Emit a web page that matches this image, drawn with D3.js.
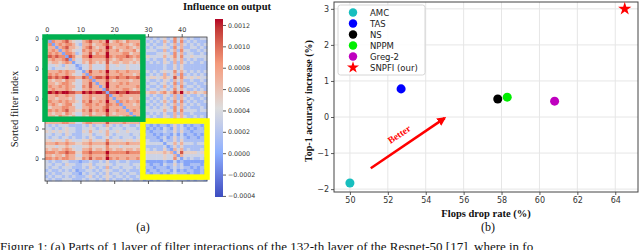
<!DOCTYPE html>
<html><head><meta charset="utf-8">
<script src="https://cdn.jsdelivr.net/npm/d3@7"></script>
<style>body{margin:0;background:#fff;} svg{display:block;}</style>
</head><body>
<svg id="c" width="640" height="250"></svg>
<script>
// ---------- Panel (a): heatmap levels 0..9 (0 = -0.00041, 9 = 0.001256), read row by row ----------
const heatRows = [
"2 7 6 6 7 6 8 6 6 5 4 7 6 8 6 7 6 6 9 6 5 7 6 6 7 6 5 6 7 3 4 3 4 3 4 5 3 4 7 4 6 4 3 4 3 3 4 4",
"7 2 7 6 6 7 8 6 5 4 4 6 7 8 6 6 7 6 9 5 6 7 6 5 7 6 6 6 6 4 3 4 3 4 3 6 4 3 7 4 7 3 4 3 4 3 3 3",
"6 7 2 6 7 6 7 7 6 4 3 6 6 7 5 6 6 7 8 6 6 6 7 6 6 5 6 7 6 3 4 3 4 3 3 5 3 4 6 3 6 4 3 4 3 4 3 4",
"6 6 6 2 6 7 8 6 6 5 4 6 7 8 6 5 6 6 9 7 5 6 6 6 7 6 5 6 6 4 3 4 3 4 4 5 4 3 7 4 6 3 3 4 4 3 4 3",
"7 6 7 6 2 6 7 6 5 4 4 7 6 7 6 6 7 6 8 6 6 7 5 6 6 6 7 5 6 3 4 4 4 3 3 6 3 4 6 3 7 4 4 3 3 4 3 4",
"6 7 6 7 6 2 7 7 6 3 4 6 6 8 5 7 6 6 9 6 6 6 6 7 7 5 6 6 7 4 3 3 3 4 4 5 4 3 7 4 6 3 4 4 3 3 4 3",
"8 8 7 8 7 7 2 8 7 5 5 7 7 9 7 7 7 7 9 7 6 7 7 7 8 7 6 7 7 4 5 4 4 4 4 6 4 5 7 4 7 4 4 5 4 4 4 4",
"6 6 7 6 6 7 8 2 6 4 4 6 6 7 6 6 6 6 8 6 5 6 7 6 6 6 5 6 6 3 4 3 4 3 3 5 3 4 6 4 6 3 4 3 4 3 3 4",
"6 5 6 6 5 6 7 6 2 4 4 6 5 7 6 5 6 5 8 5 6 6 5 6 6 5 6 5 6 3 3 4 3 4 3 5 4 3 6 3 6 4 3 4 3 3 4 3",
"5 4 4 5 4 3 5 4 4 2 3 4 4 6 4 4 4 4 7 4 4 5 4 4 5 4 4 4 5 3 3 3 3 3 3 4 3 3 5 3 5 3 3 3 3 3 3 3",
"4 4 3 4 4 4 5 4 4 3 2 4 4 6 4 4 4 4 7 4 4 4 4 4 5 4 4 4 4 3 3 3 3 3 3 4 3 3 5 3 5 3 3 3 3 3 3 3",
"7 6 6 6 7 6 7 6 6 4 4 2 6 8 6 6 7 6 9 6 6 7 6 6 7 6 6 6 6 4 4 3 4 3 4 5 4 4 7 4 6 4 3 4 3 4 3 4",
"6 7 6 7 6 6 7 6 5 4 4 6 2 7 6 6 6 6 8 6 6 6 7 6 6 6 5 6 7 3 3 4 3 4 3 6 3 4 6 3 7 3 4 3 4 3 4 3",
"8 8 7 8 7 8 9 7 7 6 6 8 7 2 7 8 8 7 9 7 7 8 7 7 8 7 7 8 7 5 4 5 5 4 5 6 5 4 8 5 7 5 4 5 4 5 4 4",
"6 6 5 6 6 5 7 6 6 4 4 6 6 7 2 6 6 6 8 6 5 6 6 6 6 5 6 6 6 3 4 3 3 4 3 5 4 3 6 4 6 3 3 4 3 3 4 3",
"7 6 6 5 6 7 7 6 5 4 4 6 6 8 6 2 6 6 9 6 6 6 7 6 7 6 6 6 6 4 3 4 4 3 4 5 3 4 7 3 6 4 3 3 4 3 3 4",
"6 7 6 6 7 6 7 6 6 4 4 7 6 8 6 6 2 6 9 6 6 7 6 6 6 6 6 7 6 3 4 3 3 4 3 6 4 3 6 4 7 3 4 4 3 4 3 3",
"6 6 7 6 6 6 7 6 5 4 4 6 6 7 6 6 6 2 8 6 6 6 6 7 7 6 5 6 6 4 3 4 4 3 4 5 3 4 7 4 6 4 3 3 4 3 4 3",
"9 9 8 9 8 9 9 8 8 7 7 9 8 9 8 9 9 8 2 8 8 9 8 8 9 8 8 8 8 6 5 6 6 5 6 7 5 6 8 6 9 5 6 5 6 5 5 6",
"6 6 6 7 6 6 7 6 6 4 4 6 6 7 6 6 6 6 8 2 6 6 7 6 6 6 6 6 6 3 4 3 4 3 3 5 4 3 6 3 6 3 4 3 3 4 3 4",
"6 6 6 5 6 6 6 5 6 4 4 6 6 7 5 6 6 6 8 6 2 6 6 6 6 5 6 6 5 3 3 4 3 4 3 5 3 4 6 3 6 4 3 4 3 3 4 3",
"7 7 6 6 7 6 7 6 6 5 4 7 6 8 6 6 7 6 9 6 6 2 7 6 7 6 6 7 6 4 4 3 4 3 4 6 4 3 7 4 7 3 4 3 4 3 3 4",
"6 6 7 6 5 6 7 7 5 4 4 6 7 7 6 7 6 6 8 7 6 7 2 6 6 6 5 6 6 3 3 4 3 4 3 5 3 4 6 3 6 4 3 4 3 4 3 3",
"6 5 6 6 6 7 7 6 6 4 4 6 6 7 6 6 6 7 8 6 6 6 6 2 6 6 6 6 7 4 4 3 4 3 4 5 4 3 7 4 6 3 4 3 3 3 4 3",
"7 7 6 7 6 7 8 6 6 5 5 7 6 8 6 7 6 7 9 6 6 7 6 6 2 6 7 6 6 4 4 4 4 4 4 6 4 4 7 4 7 4 4 4 4 3 4 4",
"6 6 5 6 6 5 7 6 5 4 4 6 6 7 5 6 6 6 8 6 5 6 6 6 6 2 6 6 6 3 3 4 3 4 3 5 3 3 6 3 6 3 3 4 3 3 3 3",
"6 6 6 5 7 6 6 5 6 4 4 6 5 7 6 6 6 5 8 6 6 6 5 6 7 6 2 6 6 3 4 3 4 3 3 5 4 3 6 4 6 4 3 3 4 3 4 3",
"6 6 7 6 5 6 7 6 5 4 4 6 6 8 6 6 7 6 8 6 6 7 6 6 6 6 6 2 6 4 3 4 3 4 4 5 3 4 7 3 6 3 4 3 3 4 3 4",
"6 6 6 6 6 7 7 6 6 4 4 6 7 7 6 6 6 6 8 6 6 6 6 7 6 6 6 6 2 3 4 3 4 3 3 6 4 3 6 4 6 4 3 4 3 3 4 3",
"4 3 4 3 4 4 4 3 3 3 3 4 3 5 3 4 4 3 6 4 3 4 3 4 4 3 3 4 3 2 3 2 3 2 3 3 2 3 5 3 4 2 3 2 3 3 2 3",
"4 4 3 4 3 4 5 4 4 3 3 4 4 5 4 3 4 4 5 3 4 4 4 3 4 4 4 3 4 3 2 3 2 3 2 4 3 2 5 3 4 3 2 3 2 3 3 2",
"5 4 5 4 5 4 5 4 4 3 3 5 4 6 4 4 5 4 6 4 4 5 4 4 5 4 4 4 4 2 3 2 3 3 3 4 3 3 5 3 5 3 3 2 3 3 3 3",
"4 4 3 4 4 3 5 4 3 3 3 4 4 5 3 4 4 4 6 4 3 4 4 4 4 3 4 4 3 3 3 3 2 3 2 3 3 2 4 2 4 2 3 3 2 3 2 3",
"4 3 4 4 3 4 4 3 4 3 3 4 3 5 4 3 3 4 5 3 4 4 3 4 4 4 3 4 4 2 3 3 3 2 3 4 2 3 5 3 4 3 2 3 3 2 3 3",
"5 5 4 5 5 4 6 5 4 4 4 5 5 6 4 5 5 4 7 5 4 5 5 4 5 5 4 5 5 3 4 3 3 3 2 4 3 3 5 3 5 3 3 3 3 3 3 3",
"6 6 6 7 6 6 7 6 6 5 5 6 6 7 6 6 6 6 8 6 6 6 6 6 7 6 6 6 6 4 4 4 4 4 4 2 4 4 6 4 6 4 4 4 3 4 4 4",
"5 5 5 4 5 5 6 5 4 4 4 5 5 6 5 5 5 5 7 5 5 5 4 5 5 5 5 5 5 3 3 3 3 3 3 4 2 3 5 3 5 3 3 3 3 3 3 3",
"6 5 6 6 5 6 7 6 5 4 4 6 6 7 5 6 6 5 7 6 5 6 6 5 6 6 5 6 6 3 4 3 4 3 3 5 3 2 6 4 6 3 4 3 3 3 4 3",
"7 7 7 6 7 7 8 7 7 5 5 7 7 8 7 7 7 7 9 7 7 7 7 7 8 7 7 7 7 5 5 5 5 5 5 6 5 6 2 5 8 5 5 5 5 4 5 5",
"6 6 5 6 6 5 7 6 6 4 4 6 6 7 6 6 6 6 8 6 6 6 6 6 6 6 6 6 6 4 4 4 4 4 4 5 4 4 6 2 6 4 4 4 4 4 4 4",
"7 7 6 7 6 7 7 6 6 5 5 7 6 8 6 7 7 6 9 7 6 7 6 6 7 6 6 7 6 4 4 4 4 4 4 5 4 4 7 4 2 4 3 4 3 3 4 3",
"4 3 4 3 3 4 4 3 3 3 2 3 3 4 3 3 4 3 5 3 3 4 3 3 4 3 3 3 3 2 2 2 2 2 2 3 2 2 4 2 3 2 2 2 2 2 2 2",
"4 4 3 4 4 3 5 4 4 3 3 4 4 5 3 4 4 4 5 4 3 4 4 4 4 3 4 4 4 3 3 2 3 3 2 4 3 3 5 3 4 2 2 3 3 3 2 3",
"4 3 4 4 3 4 4 4 3 3 3 4 3 5 4 3 4 3 6 3 4 4 3 4 4 4 3 4 3 2 3 3 2 3 3 3 2 3 4 3 4 3 3 2 3 2 3 3",
"3 4 3 3 4 3 4 3 4 2 3 3 4 4 3 4 3 4 5 4 3 3 4 3 4 3 3 3 4 3 2 3 3 2 3 3 3 2 4 2 3 2 3 3 2 2 3 2",
"4 3 4 3 3 4 4 4 3 3 2 4 3 4 4 3 4 3 5 3 4 4 3 4 3 4 4 3 3 2 3 2 3 3 2 3 2 3 4 3 3 3 2 3 2 2 3 2",
"3 4 3 4 4 3 4 3 4 3 3 3 4 5 3 4 3 4 5 4 3 4 4 3 4 3 3 4 3 3 2 3 2 3 3 4 3 2 4 2 4 2 3 2 3 3 2 3",
"4 3 4 3 3 4 4 4 3 3 3 4 3 4 4 3 4 3 5 3 4 3 3 4 3 4 3 3 4 2 3 2 3 2 3 3 2 3 4 3 3 3 2 3 2 3 3 2"
];
const levelMin = -0.00041, levelStep = 0.000185;   // value of level 0 and size of one level
const heatTicks = [0, 10, 20, 30, 40];
const cbTicks = [0.0012, 0.0010, 0.0008, 0.0006, 0.0004, 0.0002, 0.0000, -0.0002, -0.0004];
const cbTickLabels = ["0.0012","0.0010","0.0008","0.0006","0.0004","0.0002","0.0000","\u22120.0002","\u22120.0004"];
const cbDomain = [-0.00041, 0.001256];
const coolwarm = ["#3b4cc0", "#8db0fe", "#dddddd", "#f49a7b", "#b40426"];
const greenBoxCells = [0, 29, 0, 27.4];   // x0,x1,y0,y1 in cell units
const yellowBoxCells = [29, 48, 28, 46.7];

// ---------- Panel (b): scatter ----------
const methods = ["AMC", "TAS", "NS", "NPPM", "Greg-2", "SNPFI (our)"];
const flopsDrop = [50.0, 52.7, 57.8, 58.3, 60.8, 64.5];
const accIncrease = [-1.83, 0.78, 0.50, 0.55, 0.44, 3.0];
const methodColors = ["#17bebe", "#0000ff", "#000000", "#00ee00", "#bf00bf", "#ff0000"];
const methodShapes = ["circle", "circle", "circle", "circle", "circle", "star"];
const xTicks = [50, 52, 54, 56, 58, 60, 62, 64];
const yTicks = [3, 2, 1, 0, -1, -2];
const yTickLabels = ["3", "2", "1", "0", "\u22121", "\u22122"];
const arrowFrom = [51.1, -1.42], arrowTo = [55.0, -0.03];

const captionText = "Figure 1: (a) Parts of 1 layer of filter interactions of the 132-th layer of the Resnet-50 [17], where in fo";

const svg = d3.select("#c");
const serif = "'Liberation Serif','Times New Roman',serif";
const sans = "'DejaVu Sans',sans-serif";

// ===== Heatmap =====
const matrix = heatRows.map(r => r.replace(/ /g, "").split("").map(ch => levelMin + (+ch) * levelStep));
const n = matrix.length;
const idx = d3.range(n);
const xb = d3.scaleBand().domain(idx).range([45, 207]);
const yb = d3.scaleBand().domain(idx).range([37, 181]);
const color = d3.scaleLinear()
  .domain(d3.range(5).map(i => cbDomain[0] + i * (cbDomain[1] - cbDomain[0]) / 4))
  .range(coolwarm).interpolate(d3.interpolateLab).clamp(true);

const cells = [];
matrix.forEach((row, i) => row.forEach((v, j) => cells.push({i, j, v})));
svg.append("g").selectAll("rect").data(cells).join("rect")
  .attr("x", d => xb(d.j)).attr("y", d => yb(d.i))
  .attr("width", xb.bandwidth() + 0.4).attr("height", yb.bandwidth() + 0.4)
  .attr("fill", d => color(d.v));

svg.append("rect").attr("x", 45).attr("y", 37).attr("width", 162).attr("height", 144)
  .attr("fill", "none").attr("stroke", "#444").attr("stroke-width", 0.8);

function styleAxis(g, size) {
  g.selectAll("path.domain").remove();
  g.selectAll("line").attr("stroke", "#333").attr("stroke-width", 0.8);
  g.selectAll("text").attr("font-family", sans).attr("font-size", size).attr("fill", "#333");
}
const cx = v => xb(v) + xb.bandwidth() / 2;
svg.append("g").attr("transform", "translate(0,37)")
  .call(d3.axisTop(d3.scalePoint().domain(idx).range([cx(0), cx(n - 1)])).tickValues(heatTicks).tickSize(3).tickPadding(2))
  .call(g => styleAxis(g, 6.5));
svg.append("g").attr("transform", "translate(0,181)")
  .call(d3.axisBottom(d3.scalePoint().domain(idx).range([cx(0), cx(n - 1)])).tickValues(heatTicks).tickSize(3).tickFormat(""))
  .call(g => styleAxis(g, 6.5));
// the reference figure is cropped so only the last digit of the left tick labels shows
svg.append("clipPath").attr("id", "ylabclip").append("rect").attr("x", 35.6).attr("y", 0).attr("width", 30).attr("height", 250);
const cy = v => yb(v) + yb.bandwidth() / 2;
svg.append("g").attr("clip-path", "url(#ylabclip)")
  .append("g").attr("transform", "translate(45,0)")
  .call(d3.axisLeft(d3.scalePoint().domain(idx).range([cy(0), cy(n - 1)])).tickValues(heatTicks).tickSize(3).tickPadding(3))
  .call(g => styleAxis(g, 6.5));

// boxes
function box(cellsArr, col, w) {
  const x0 = 45 + cellsArr[0] * xb.step(), x1 = 45 + cellsArr[1] * xb.step();
  const y0 = 37 + cellsArr[2] * yb.step(), y1 = 37 + cellsArr[3] * yb.step();
  svg.append("rect").attr("x", x0).attr("y", y0).attr("width", x1 - x0).attr("height", y1 - y0)
    .attr("fill", "none").attr("stroke", col).attr("stroke-width", w);
}
box(yellowBoxCells, "#ffff00", 5.5);
box(greenBoxCells, "#00b050", 5.5);

svg.append("text").attr("transform", "translate(18,109) rotate(-90)").attr("text-anchor", "middle")
  .attr("font-family", serif).attr("font-size", 10.5).attr("fill", "#111").text("Sorted filter index");

// colorbar
const cbX = 215, cbW = 8;
const cbScale = d3.scaleLinear().domain(cbDomain).range([197, 19]);
const grad = svg.append("defs").append("linearGradient").attr("id", "cbg")
  .attr("x1", 0).attr("y1", 1).attr("x2", 0).attr("y2", 0);
d3.range(21).forEach(k => {
  const t = k / 20;
  grad.append("stop").attr("offset", t).attr("stop-color", color(cbDomain[0] + t * (cbDomain[1] - cbDomain[0])));
});
svg.append("rect").attr("x", cbX).attr("y", 19).attr("width", cbW).attr("height", 178).attr("fill", "url(#cbg)");
svg.append("g").attr("transform", `translate(${cbX + cbW},0)`)
  .call(d3.axisRight(cbScale).tickValues(cbTicks).tickSize(3).tickPadding(2).tickFormat((d, i) => cbTickLabels[i]))
  .call(g => styleAxis(g, 6.3));
svg.append("text").attr("x", 227).attr("y", 10).attr("text-anchor", "middle")
  .attr("font-family", serif).attr("font-weight", "bold").attr("font-size", 10.5).attr("fill", "#111")
  .text("Influence on output");

svg.append("text").attr("x", 143).attr("y", 231).attr("text-anchor", "middle")
  .attr("font-family", serif).attr("font-size", 12).attr("fill", "#111").text("(a)");

// ===== Scatter =====
const L = 334, R = 638, T = 2, B = 192;
const xs = d3.scaleLinear().domain([49.16, 65.2]).range([L, R]);
const ys = d3.scaleLinear().domain([-2.08, 3.19]).range([B, T]);

svg.append("g").selectAll("line").data(xTicks).join("line")
  .attr("x1", d => xs(d)).attr("x2", d => xs(d)).attr("y1", T).attr("y2", B)
  .attr("stroke", "#e6e6e6").attr("stroke-width", 1);
svg.append("g").selectAll("line").data(yTicks).join("line")
  .attr("y1", d => ys(d)).attr("y2", d => ys(d)).attr("x1", L).attr("x2", R)
  .attr("stroke", "#e6e6e6").attr("stroke-width", 1);
svg.append("rect").attr("x", L).attr("y", T).attr("width", R - L).attr("height", B - T)
  .attr("fill", "none").attr("stroke", "#444").attr("stroke-width", 1);

svg.append("g").attr("transform", `translate(0,${B})`)
  .call(d3.axisBottom(xs).tickValues(xTicks).tickSize(3).tickPadding(2))
  .call(g => styleAxis(g, 8));
svg.append("g").attr("transform", `translate(${L},0)`)
  .call(d3.axisLeft(ys).tickValues(yTicks).tickSize(3).tickPadding(2).tickFormat((d, i) => yTickLabels[i]))
  .call(g => styleAxis(g, 8));

svg.append("text").attr("x", 486).attr("y", 217).attr("text-anchor", "middle")
  .attr("font-family", serif).attr("font-weight", "bold").attr("font-size", 10.5).attr("fill", "#111")
  .text("Flops drop rate (%)");
svg.append("text").attr("transform", "translate(312,101) rotate(-90)").attr("text-anchor", "middle")
  .attr("font-family", serif).attr("font-weight", "bold").attr("font-size", 10).attr("fill", "#111")
  .text("Top-1 accuracy increase (%)");
svg.append("text").attr("x", 488).attr("y", 231).attr("text-anchor", "middle")
  .attr("font-family", serif).attr("font-size", 12).attr("fill", "#111").text("(b)");

// arrow
svg.append("defs").append("marker").attr("id", "ah").attr("viewBox", "0 0 10 10")
  .attr("refX", 8).attr("refY", 5).attr("markerWidth", 9).attr("markerHeight", 9)
  .attr("markerUnits", "userSpaceOnUse").attr("orient", "auto")
  .append("path").attr("d", "M0,0 L10,5 L0,10 z").attr("fill", "#ff0000");
svg.append("line").attr("x1", xs(arrowFrom[0])).attr("y1", ys(arrowFrom[1]))
  .attr("x2", xs(arrowTo[0])).attr("y2", ys(arrowTo[1]))
  .attr("stroke", "#ff0000").attr("stroke-width", 2.5).attr("marker-end", "url(#ah)");
const ang = Math.atan2(ys(arrowTo[1]) - ys(arrowFrom[1]), xs(arrowTo[0]) - xs(arrowFrom[0])) * 180 / Math.PI;
svg.append("text").attr("transform", `translate(401,137) rotate(${ang})`).attr("text-anchor", "middle")
  .attr("font-family", serif).attr("font-weight", "bold").attr("font-size", 9.5).attr("fill", "#ff0000")
  .text("Better");

// points
const pts = methods.map((m, i) => ({m, x: flopsDrop[i], y: accIncrease[i], c: methodColors[i], s: methodShapes[i]}));
const sym = s => d3.symbol().type(s === "star" ? d3.symbolStar : d3.symbolCircle).size(s === "star" ? 55 : 64)();
svg.append("g").selectAll("path").data(pts).join("path")
  .attr("transform", d => `translate(${xs(d.x)},${ys(d.y)})`)
  .attr("d", d => sym(d.s)).attr("fill", d => d.c);

// legend
const lg = svg.append("g");
lg.append("rect").attr("x", 338).attr("y", 5).attr("width", 87).attr("height", 70).attr("rx", 2.5)
  .attr("fill", "#fff").attr("fill-opacity", 0.85).attr("stroke", "#cccccc").attr("stroke-width", 0.8);
pts.forEach((d, i) => {
  const yy = 12.5 + i * 11;
  lg.append("path").attr("transform", `translate(353,${yy})`)
    .attr("d", d3.symbol().type(d.s === "star" ? d3.symbolStar : d3.symbolCircle).size(d.s === "star" ? 45 : 56)())
    .attr("fill", d.c);
  lg.append("text").attr("x", 370).attr("y", yy + 3).attr("font-family", sans).attr("font-size", 8.5)
    .attr("fill", "#222").text(d.m);
});

// caption (the reference crops it at the bottom edge)
svg.append("text").attr("x", 0).attr("y", 251).attr("font-family", serif).attr("font-size", 13)
  .attr("fill", "#111").text(captionText);
</script>
</body></html>
